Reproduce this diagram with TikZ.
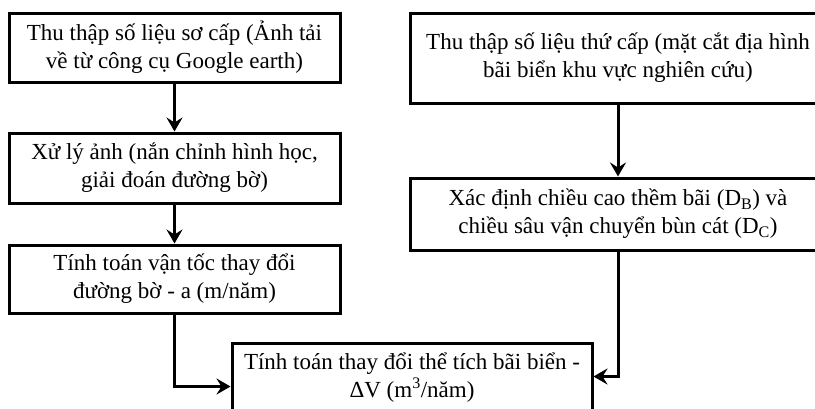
\documentclass[tikz,border=0pt]{standalone}
\usepackage{fontspec}
\setmainfont{Liberation Serif}
\usetikzlibrary{arrows.meta}
\tikzset{
  stepbox/.style={draw, line width=3pt, rectangle, align=center, inner sep=0pt,
    font=\fontsize{23}{28}\selectfont},
  arr/.style={line width=3pt, -{Stealth[length=14pt,width=16pt,inset=5pt]}}
}
\begin{document}
\begin{tikzpicture}[x=1pt,y=-1pt]
  \useasboundingbox (0,0) rectangle (815,408);
  \clip (0,0) rectangle (815,408);
  % left column
  \node[stepbox, minimum width=331pt, minimum height=69pt] (b1) at (174.5,47.5)
    {Thu thập số liệu sơ cấp (Ảnh tải\\về từ công cụ Google earth)};
  \node[stepbox, minimum width=331pt, minimum height=70pt] (b2) at (174.5,168)
    {Xử lý ảnh (nắn chỉnh hình học,\\giải đoán đường bờ)};
  \node[stepbox, minimum width=331pt, minimum height=68pt] (b3) at (174.5,279)
    {Tính toán vận tốc thay đổi\\đường bờ - a (m/năm)};
  % right column
  \node[stepbox, minimum width=416pt, minimum height=90pt] (b5) at (618,58)
    {Thu thập số liệu thứ cấp (mặt cắt địa hình\\bãi biển khu vực nghiên cứu)};
  \node[stepbox, minimum width=416pt, minimum height=72pt] (b6) at (618,214)
    {Xác định chiều cao thềm bãi (D\textsubscript{B}) và\\chiều sâu vận chuyển bùn cát (D\textsubscript{C})};
  % result
  \node[stepbox, minimum width=360pt, minimum height=69pt] (b4) at (412,377.5)
    {Tính toán thay đổi thể tích bãi biển -\\ΔV (m\textsuperscript{3}/năm)};
  % connectors
  \draw[arr] (b1) -- (b2);
  \draw[arr] (b2) -- (b3);
  \draw[arr] (b5) -- (b6);
  \draw[arr] (b3.south) |- ([yshift=-45pt]b4.north west);
  \draw[arr] (b6.south) |- ([yshift=-35pt]b4.north east);
\end{tikzpicture}
\end{document}
